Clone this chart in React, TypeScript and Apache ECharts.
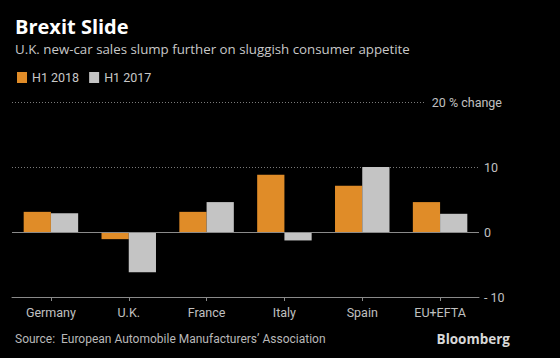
import React, { useEffect, useRef } from "react";
import * as echarts from "echarts";

const categories = ["Germany", "U.K.", "France", "Italy", "Spain", "EU+EFTA"];
const h1_2018 = [3.1, -1.1, 3.1, 8.8, 7.1, 4.6];
const h1_2017 = [2.9, -6.2, 4.6, -1.3, 10.0, 2.8];
const yTicks = { min: -10, max: 20, interval: 10 };

const FONT = "'Open Sans', sans-serif";
const SMALL = "Roboto, 'Open Sans', sans-serif";

export default function App() {
  const ref = useRef<HTMLDivElement>(null);
  useEffect(() => {
    document.body.style.margin = "0";
    document.body.style.background = "#000";
    const chart = echarts.init(ref.current!, undefined, { renderer: "svg" });
    chart.setOption({
      animation: false,
      backgroundColor: "#000",
      textStyle: { fontFamily: SMALL },
      grid: { left: 12, right: 81, top: 102, bottom: 61, containLabel: false },
      legend: {
        left: 12,
        top: 66,
        icon: "rect",
        itemWidth: 10,
        itemHeight: 11,
        itemGap: 10,
        textStyle: { color: "#c8c8c8", fontSize: 12.5, fontFamily: SMALL },
        data: ["H1 2018", "H1 2017"],
      },
      xAxis: {
        type: "category",
        data: categories,
        axisLine: { onZero: false, lineStyle: { color: "#8a8a8a", width: 1 } },
        axisTick: { show: true, alignWithLabel: true, length: 4, lineStyle: { color: "#8a8a8a" } },
        axisLabel: { color: "#c0c0c0", fontSize: 12.5, margin: 9, fontFamily: SMALL },
      },
      yAxis: {
        type: "value",
        position: "right",
        min: yTicks.min,
        max: yTicks.max,
        interval: yTicks.interval,
        axisLine: { show: false },
        axisTick: { show: false },
        axisLabel: {
          color: "#c0c0c0",
          fontSize: 12.5,
          margin: 5,
          fontFamily: SMALL,
          formatter: (v: number) => (v === 20 ? "" : v < 0 ? "- " + Math.abs(v) : String(v)),
        },
        splitLine: { show: true, lineStyle: { color: "#7a7a7a", type: [1, 2], width: 1 } },
      },
      series: [
        {
          name: "H1 2018",
          type: "bar",
          data: h1_2018,
          itemStyle: { color: "#e08c28" },
          barGap: "0%",
          barCategoryGap: "30%",
          markLine: {
            silent: true,
            symbol: ["none", "none"],
            label: { show: false },
            lineStyle: { color: "#8a8a8a", type: "solid", width: 1 },
            data: [{ yAxis: 0 }],
          },
        },
        {
          name: "H1 2017",
          type: "bar",
          data: h1_2017,
          itemStyle: { color: "#c4c4c4" },
          barGap: "0%",
          barCategoryGap: "30%",
        },
      ],
      graphic: [
        {
          type: "text",
          left: 15,
          top: 16,
          z: 100,
          style: { text: "Brexit Slide", fill: "#fff", font: `bold 20px ${FONT}` },
        },
        {
          type: "text",
          left: 15,
          top: 42,
          z: 100,
          style: {
            text: "U.K. new-car sales slump further on sluggish consumer appetite",
            fill: "#c8c8c8",
            font: `13.3px ${FONT}`,
          },
        },
        {
          type: "text",
          right: 58,
          top: 96,
          z: 100,
          style: {
            text: "20 % change",
            fill: "#c0c0c0",
            font: `12.5px ${SMALL}`,
            backgroundColor: "#000",
            padding: [0, 0, 0, 7],
          },
        },
        {
          type: "text",
          left: 15,
          top: 333,
          z: 100,
          style: {
            text: "Source:  European Automobile Manufacturers\u2019 Association",
            fill: "#b8b8b8",
            font: `12px ${SMALL}`,
          },
        },
        {
          type: "text",
          right: 50,
          top: 332,
          z: 100,
          style: { text: "Bloomberg", fill: "#d8d8d8", font: `bold 13.5px ${FONT}` },
        },
      ],
    });
    return () => chart.dispose();
  }, []);
  return <div ref={ref} style={{ width: 560, height: 358 }} />;
}
